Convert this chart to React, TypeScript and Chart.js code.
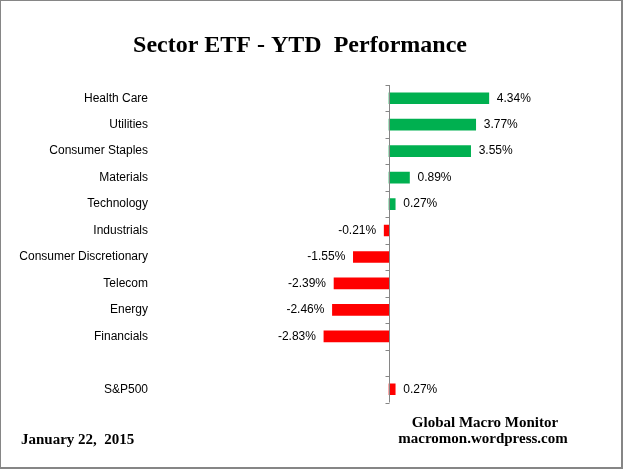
import React, { useEffect, useRef } from "react";
import { Chart, registerables } from "chart.js";

Chart.register(...registerables);

const categories = [
  "Health Care",
  "Utilities",
  "Consumer Staples",
  "Materials",
  "Technology",
  "Industrials",
  "Consumer Discretionary",
  "Telecom",
  "Energy",
  "Financials",
  "",
  "S&P500",
];
const ytdValues: (number | null)[] = [4.34, 3.77, 3.55, 0.89, 0.27, -0.21, -1.55, -2.39, -2.46, -2.83, null, 0.27];
const benchmark = "S&P500";
const titleText = "Sector ETF - YTD  Performance";
const sourceLines = ["Global Macro Monitor", "macromon.wordpress.com"];
const dateText = "January 22,  2015";

const GREEN = "#00B050";
const RED = "#FF0000";
const AXIS = "#868686";

export default function App() {
  const ref = useRef<HTMLCanvasElement | null>(null);

  useEffect(() => {
    if (!ref.current) return;
    const axisPlugin = {
      id: "zeroAxis",
      afterDatasetsDraw(chart: any) {
        const ctx = chart.ctx;
        const xs = chart.scales.x;
        const ys = chart.scales.y;
        const x0 = Math.round(xs.getPixelForValue(0)) + 0.5;
        ctx.save();
        ctx.strokeStyle = AXIS;
        ctx.lineWidth = 1;
        ctx.beginPath();
        ctx.moveTo(x0, chart.chartArea.top);
        ctx.lineTo(x0, chart.chartArea.bottom);
        for (let i = 0; i <= categories.length; i++) {
          const y = Math.round(ys.getPixelForValue(i - 0.5)) + 0.5;
          ctx.moveTo(x0 - 4, y);
          ctx.lineTo(x0, y);
        }
        ctx.stroke();
        ctx.restore();

        const meta = chart.getDatasetMeta(0);
        ctx.save();
        ctx.font = '12px "Liberation Sans"';
        ctx.fillStyle = "#000";
        ctx.textBaseline = "middle";
        meta.data.forEach((el: any, i: number) => {
          const v = ytdValues[i];
          if (v === null || v === undefined) return;
          const label = v.toFixed(2) + "%";
          if (v >= 0) {
            ctx.textAlign = "left";
            ctx.fillText(label, el.x + 8, el.y);
          } else {
            ctx.textAlign = "right";
            ctx.fillText(label, el.x - 8, el.y);
          }
        });
        ctx.restore();
      },
      afterDraw(chart: any) {
        const ctx = chart.ctx;
        ctx.save();
        ctx.fillStyle = "#000";
        ctx.textBaseline = "alphabetic";
        ctx.textAlign = "center";
        ctx.font = 'bold 24px "Liberation Serif"';
        ctx.fillText(titleText, 300, 52);
        ctx.font = 'bold 15px "Liberation Serif"';
        ctx.fillText(sourceLines[0], 485, 427);
        ctx.fillText(sourceLines[1], 483, 443);
        ctx.textAlign = "left";
        ctx.fillText(dateText, 21, 444);
        ctx.restore();
      },
    };

    const chart = new Chart(ref.current, {
      type: "bar",
      data: {
        labels: categories,
        datasets: [
          {
            data: ytdValues as any,
            backgroundColor: (c: any) => {
              const v = ytdValues[c.dataIndex];
              if (categories[c.dataIndex] === benchmark) return RED;
              return v !== null && v < 0 ? RED : GREEN;
            },
            barThickness: 11,
            borderWidth: 0,
          },
        ],
      },
      options: {
        indexAxis: "y",
        animation: false,
        responsive: false,
        maintainAspectRatio: false,
        layout: { padding: { top: 85, bottom: 67.5, left: 0, right: 29 } },
        plugins: {
          legend: { display: false },
          title: { display: false },
          tooltip: { enabled: false },
        },
        scales: {
          x: {
            type: "linear",
            display: false,
            min: -4,
            max: 9,
          },
          y: {
            type: "category",
            position: "left",
            offset: true,
            grid: { display: false, drawTicks: false },
            border: { display: false },
            ticks: {
              padding: 149,
              color: "#000",
              font: { family: "Liberation Sans", size: 12 },
            },
            afterFit: (s: any) => {
              s.width = 297;
              s.paddingTop = 0;
              s.paddingBottom = 0;
            },
          },
        } as any,
      },
      plugins: [axisPlugin],
    });
    return () => chart.destroy();
  }, []);

  return (
    <div style={{ position: "absolute", left: 0, top: 0, width: 625, height: 470, background: "#fff" }}>
      <canvas ref={ref} width={625} height={470} style={{ display: "block" }} />
      <div
        style={{
          position: "absolute",
          left: 0,
          top: 0,
          width: 623,
          height: 469,
          boxSizing: "border-box",
          borderLeft: "1px solid #868686",
          borderTop: "1px solid #868686",
          borderRight: "2px solid #868686",
          borderBottom: "2px solid #868686",
          pointerEvents: "none",
        }}
      />
    </div>
  );
}
